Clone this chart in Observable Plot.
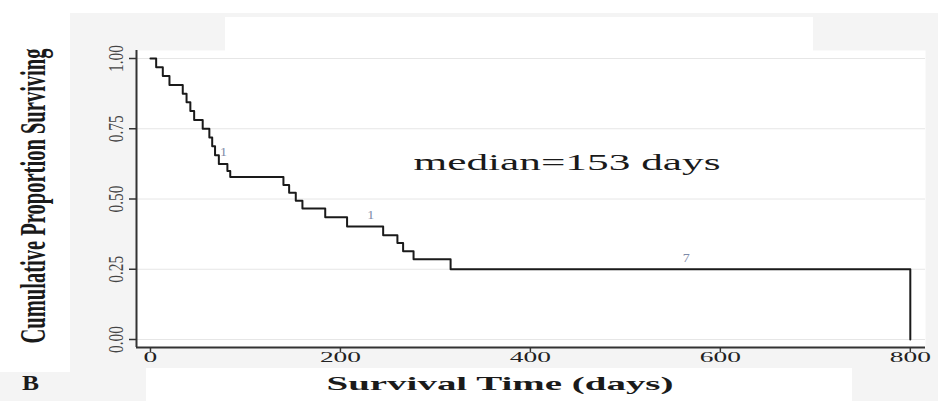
<!DOCTYPE html>
<html><head><meta charset="utf-8">
<script src="https://cdn.jsdelivr.net/npm/d3@7"></script>
<script src="https://cdn.jsdelivr.net/npm/@observablehq/plot@0.6"></script>
<style>
html,body{margin:0;padding:0;background:#fff;}
#wrap{position:relative;width:938px;height:401px;background:#f4f4f4;overflow:hidden;}
.pane{position:absolute;background:#fff;}
#chart{position:absolute;left:0;top:0;}
</style></head><body>
<div id="wrap">
 <div class="pane" style="left:0;top:0;width:938px;height:13px"></div>
 <div class="pane" style="left:225px;top:17px;width:588px;height:40px"></div>
 <div class="pane" style="left:0;top:0;width:70px;height:372px"></div>
 <div class="pane" style="left:146px;top:368px;width:706px;height:33px"></div>
 <div id="chart"></div>
</div>
<script>
// Kaplan-Meier step points (time in days, survival after that time)
const times =    [0, 6, 13, 20, 34, 38, 42, 46, 55, 62, 65, 68, 72, 81, 84, 140, 146, 153, 160, 184, 207, 245, 260, 266, 277, 316, 800];
const survival = [1.0, 0.969, 0.938, 0.906, 0.875, 0.844, 0.813, 0.781, 0.75, 0.719, 0.688, 0.656, 0.625, 0.60, 0.578, 0.55, 0.522, 0.494, 0.466, 0.435, 0.402, 0.371, 0.343, 0.314, 0.286, 0.25, 0];
// censoring counts
const censorTimes = [77, 232, 564];
const censorLevels = [0.625, 0.402, 0.25];
const censorCounts = ["1", "1", "7"];
// axes
const xTicks = [0, 200, 400, 600, 800];
const yTicks = [0, 0.25, 0.5, 0.75, 1];
const yTickLabels = ["0.00", "0.25", "0.50", "0.75", "1.00"];
const xTitle = "Survival Time (days)";
const yTitle = "Cumulative Proportion Surviving";
const medianText = "median=153 days";
const panelLabel = "B";

const xDomain = [-14.7, 816];
const yDomain = [-0.0285, 1.0285];

const curve = times.map((t, i) => ({t, s: survival[i]}));
const censors = censorTimes.map((t, i) => ({t, s: censorLevels[i], n: censorCounts[i]}));

// text marks in order; each gets a length rule for the stretched look
const textMarks = [
  [Plot.text(censors, {x: "t", y: "s", text: "n", dy: -11.5, fontSize: 12, fill: "#7d8aa8"}), n => n * 7],
  [Plot.text(xTicks, {x: d => d, frameAnchor: "bottom", dy: 14, text: d => String(d), fontSize: 15, fill: "#222"}), n => n * 13.7],
  [Plot.text(yTicks, {x: xDomain[0], y: d => d, dx: -19.5, rotate: -90, textAnchor: "middle", text: (d, i) => yTickLabels[i], fontSize: 20, fill: "#444"}), n => n * 6.75],
  [Plot.text([yTitle], {frameAnchor: "left", textAnchor: "middle", dx: -103, dy: -3, rotate: -90, text: d => d, fontSize: 36, fontWeight: "bold", fill: "#1a1a1a"}), () => 295],
  [Plot.text([xTitle], {frameAnchor: "bottom", textAnchor: "middle", dx: -31, dy: 42, text: d => d, fontSize: 19, fontWeight: "bold", fill: "#1a1a1a"}), () => 347],
  [Plot.text([panelLabel], {frameAnchor: "bottom-left", textAnchor: "middle", dx: -106, dy: 42, text: d => d, fontSize: 20, fontWeight: "bold", fill: "#1a1a1a"}), () => 17],
  [Plot.text([medianText], {frameAnchor: "top", textAnchor: "middle", dx: 36, dy: 102, text: d => d, fontSize: 24, fill: "#1a1a1a"}), () => 307]
];

const svg = Plot.plot({
  width: 938, height: 401,
  marginLeft: 136, marginRight: 13, marginTop: 50, marginBottom: 54,
  x: {domain: xDomain},
  y: {domain: yDomain},
  style: {background: "transparent", fontFamily: "'Liberation Serif', 'DejaVu Serif', serif", color: "#222"},
  marks: [
    Plot.frame({fill: "white", stroke: "none"}),
    Plot.gridY(yTicks, {stroke: "#e6e6e6", strokeOpacity: 1}),
    Plot.ruleX([xDomain[0]], {stroke: "#333", strokeWidth: 2}),
    Plot.ruleY([yDomain[0]], {stroke: "#333", strokeWidth: 2}),
    Plot.axisX({ticks: xTicks, tickSize: 5, fill: "none", stroke: "#333", strokeWidth: 1.5}),
    Plot.axisY({ticks: yTicks, tickSize: 7, fill: "none", stroke: "#333", strokeWidth: 1.5}),
    Plot.line(curve, {x: "t", y: "s", curve: "step-after", stroke: "#1a1a1a", strokeWidth: 2}),
    ...textMarks.map(d => d[0])
  ]
});

const groups = svg.querySelectorAll('g[aria-label="text"]');
groups.forEach((g, k) => {
  const rule = textMarks[k] && textMarks[k][1];
  if (!rule) return;
  g.querySelectorAll("text").forEach(t => {
    t.setAttribute("textLength", rule(t.textContent.length));
    t.setAttribute("lengthAdjust", "spacingAndGlyphs");
  });
});

document.getElementById("chart").appendChild(svg);
</script>
</body></html>
